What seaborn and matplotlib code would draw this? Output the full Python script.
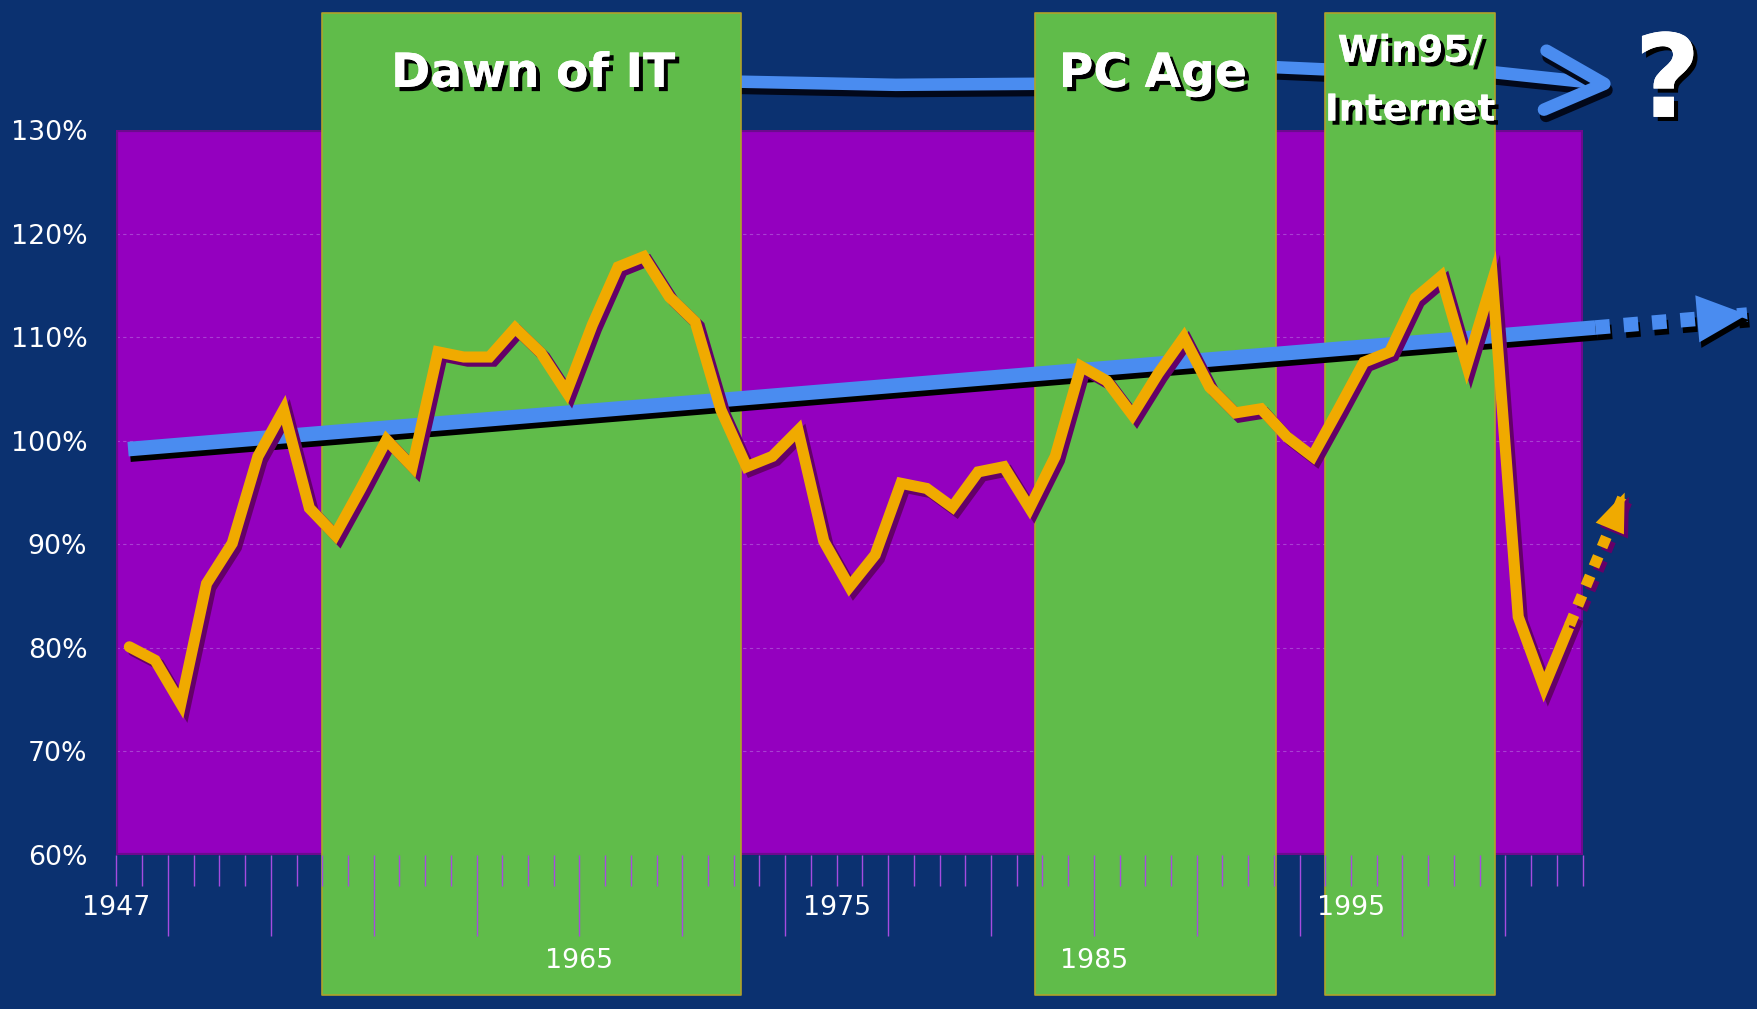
import numpy as np
import matplotlib
matplotlib.use('Agg')
import matplotlib.pyplot as plt
import matplotlib.patheffects as pe
from matplotlib import font_manager
from matplotlib.patches import Rectangle
import seaborn as sns

# ============================================================
# DATA
# ============================================================
years = np.arange(1947, 2004)
values = [80.1, 78.8, 74.6, 86.2, 90.1, 98.5, 103.0, 93.5, 90.9, 95.4,
          100.1, 97.5, 108.6, 108.1, 108.1, 110.9, 108.5, 104.7, 111.2, 116.8,
          117.8, 113.9, 111.5, 103.0, 97.5, 98.5, 101.0, 90.3, 85.9, 89.0,
          95.9, 95.4, 93.6, 97.0, 97.5, 93.5, 98.5, 107.2, 105.8, 102.5,
          106.5, 110.0, 105.2, 102.7, 103.1, 100.4, 98.5, 103.0, 107.6, 108.6,
          113.8, 115.9, 107.3, 115.5, 83.0, 76.2, 82.2]

band_names = ['Dawn of IT', 'PC Age', 'Win95/\nInternet']
band_start = [1955.0, 1982.7, 1994.0]
band_end = [1971.3, 1992.1, 2000.6]
band_top = 141.3
band_bottom = 46.5
band_label_x = [1963.2, 1987.3, 1997.3]
band_label_y = [135.4, 135.4, 134.8]
band_label_size = [46, 46, 36]

# hand drawn trend and its dotted projection
trend_x = [1947.45, 2004.5]
trend_y = [99.2, 110.95]
trend_ext_x = [2004.5, 2010.4]
trend_ext_y = [110.95, 112.2]

# dotted "recovery" arrow after the last point
orange_ext_x = [2003.5, 2005.64]
orange_ext_y = [82.2, 95.0]

# timeline arrow at the top, running behind the era bands
timeline_x = [1968.0, 1971.3, 1977.3, 1982.7, 1987.5, 1992.1, 1993.9, 2000.6, 2004.8]
timeline_y = [134.8, 134.7, 134.4, 134.5, 135.5, 136.1, 135.9, 135.6, 134.5]
chevron_x = [2002.6, 2004.85, 2002.5]
chevron_y = [137.7, 134.5, 132.0]
question_pos = (2007.3, 134.4)

y_ticks = [60, 70, 80, 90, 100, 110, 120, 130]
xlabel_years = [1947, 1965, 1975, 1985, 1995]
xlabel_rows = [0, 1, 0, 1, 0]

# colours
navy = '#0B3170'
purple = '#9400BF'
purple_edge = '#6C0A8E'
green = '#60BC4A'
green_edge = '#B0A22A'
orange = '#F0AA00'
orange_shadow = '#640068'
blue = '#4A8CF0'
tick_color = '#A64BE0'

# ============================================================
# STYLE
# ============================================================
sns.set_theme(style='dark', rc={'axes.facecolor': purple, 'figure.facecolor': navy})
installed = {f.name for f in font_manager.fontManager.ttflist}
narrow, fscale = 'DejaVu Sans', 0.74
for name, sc in [('Liberation Sans Narrow', 1.0), ('DejaVu Sans Condensed', 0.82)]:
    if name in installed:
        narrow, fscale = name, sc
        break
plt.rcParams['font.family'] = [narrow, 'DejaVu Sans']

fig = plt.figure(figsize=(17.57, 10.09), dpi=100)
ax = fig.add_axes([0.0663, 0.1528, 0.8344, 0.7180])
ax.set_xlim(1947, 2004)
ax.set_ylim(60, 130)
for s in ax.spines.values():
    s.set_visible(False)
ax.set_axisbelow(False)

text_shadow = [pe.withSimplePatchShadow(offset=(3, -3), shadow_rgbFace='black', alpha=1), pe.Normal()]

# purple plot area border + faint grid
ax.add_patch(Rectangle((0, 0), 1, 1, transform=ax.transAxes, fill=False,
                       edgecolor=purple_edge, lw=3, zorder=1))
for v in y_ticks[1:-1]:
    ax.axhline(v, color='#B86AE0', lw=0.8, ls=(0, (3, 3)), alpha=0.6, zorder=0.8)

# timeline arrow (behind the bands)
blue_shadow = [pe.SimpleLineShadow(offset=(1.5, -4.5), shadow_color='#02081A', alpha=1), pe.Normal()]
ax.plot(timeline_x, timeline_y, color=blue, lw=9, solid_capstyle='round',
        zorder=1.5, clip_on=False, path_effects=blue_shadow)
ax.plot(chevron_x, chevron_y, color=blue, lw=9, solid_capstyle='round',
        solid_joinstyle='round', zorder=1.5, clip_on=False, path_effects=blue_shadow)

# era bands
for name, x0, x1, lx, ly, fs in zip(band_names, band_start, band_end,
                                    band_label_x, band_label_y, band_label_size):
    ax.fill_between([x0, x1], band_bottom, band_top, color=green, edgecolor=green_edge,
                    linewidth=1.2, zorder=2, clip_on=False)
    ax.text(lx, ly, name, ha='center', va='center', color='white', fontsize=fs * fscale,
            fontweight='bold', linespacing=1.75, zorder=7, path_effects=text_shadow)

ax.text(question_pos[0], question_pos[1], '?', ha='center', va='center', color='white',
        fontsize=112 * fscale, fontweight='bold', zorder=7, path_effects=text_shadow)

# trend line
trend_shadow = [pe.SimpleLineShadow(offset=(1.5, -4), shadow_color='black', alpha=1), pe.Normal()]
ax.plot(trend_x, trend_y, color=blue, lw=10.5, solid_capstyle='butt', zorder=5,
        clip_on=False, path_effects=trend_shadow)
ax.plot(trend_ext_x, trend_ext_y, color=blue, lw=10.5, ls=(0, (1, 0.95)),
        dash_capstyle='butt', zorder=5, clip_on=False, path_effects=trend_shadow)
ax.annotate('', xy=(trend_ext_x[1], trend_ext_y[1]), xytext=(trend_ext_x[0], trend_ext_y[0]),
            annotation_clip=False, zorder=5,
            arrowprops=dict(arrowstyle='-|>,head_length=1.8,head_width=0.85', mutation_scale=20,
                            color=blue, lw=0, shrinkA=0, shrinkB=0,
                            path_effects=[pe.SimplePatchShadow(offset=(1.5, -4), shadow_rgbFace='black', alpha=1), pe.Normal()]))

# main series
line_shadow = [pe.SimpleLineShadow(offset=(3, -3), shadow_color=orange_shadow, alpha=1), pe.Normal()]
sns.lineplot(x=years + 0.5, y=values, ax=ax, color=orange, linewidth=8, zorder=6,
             solid_joinstyle='miter', clip_on=False, path_effects=line_shadow)
ax.plot(orange_ext_x, orange_ext_y, color=orange, lw=8, ls=(0, (1, 0.9)),
        dash_capstyle='butt', zorder=6, clip_on=False, path_effects=line_shadow)
ax.annotate('', xy=(orange_ext_x[1], orange_ext_y[1]), xytext=(orange_ext_x[0], orange_ext_y[0]),
            annotation_clip=False, zorder=6,
            arrowprops=dict(arrowstyle='-|>,head_length=1.4,head_width=0.55', mutation_scale=20,
                            color=orange, lw=0, shrinkA=0, shrinkB=0,
                            path_effects=[pe.SimplePatchShadow(offset=(3, -3), shadow_rgbFace=orange_shadow, alpha=1), pe.Normal()]))

# axes ticks and labels
ax.set_xticks(np.arange(1949, 2004, 4))
ax.set_xticks(np.arange(1947, 2005), minor=True)
ax.tick_params(axis='x', which='major', bottom=True, length=58, width=1, color=tick_color,
               direction='out', labelbottom=False)
ax.tick_params(axis='x', which='minor', bottom=True, length=22, width=1, color=tick_color,
               direction='out')
ax.set_yticks(y_ticks, [f'{v}%' for v in y_ticks])
ax.tick_params(axis='y', left=False, length=0, pad=21, labelcolor='white', labelsize=26 * fscale)
ax.set_xlabel('')
ax.set_ylabel('')

row_y = [-0.073, -0.147]
for yr, row in zip(xlabel_years, xlabel_rows):
    ax.text(yr, row_y[row], str(yr), transform=ax.get_xaxis_transform(), ha='center',
            va='center', color='white', fontsize=26 * fscale, zorder=7)

fig.savefig('out.png', dpi=100, facecolor=navy)
